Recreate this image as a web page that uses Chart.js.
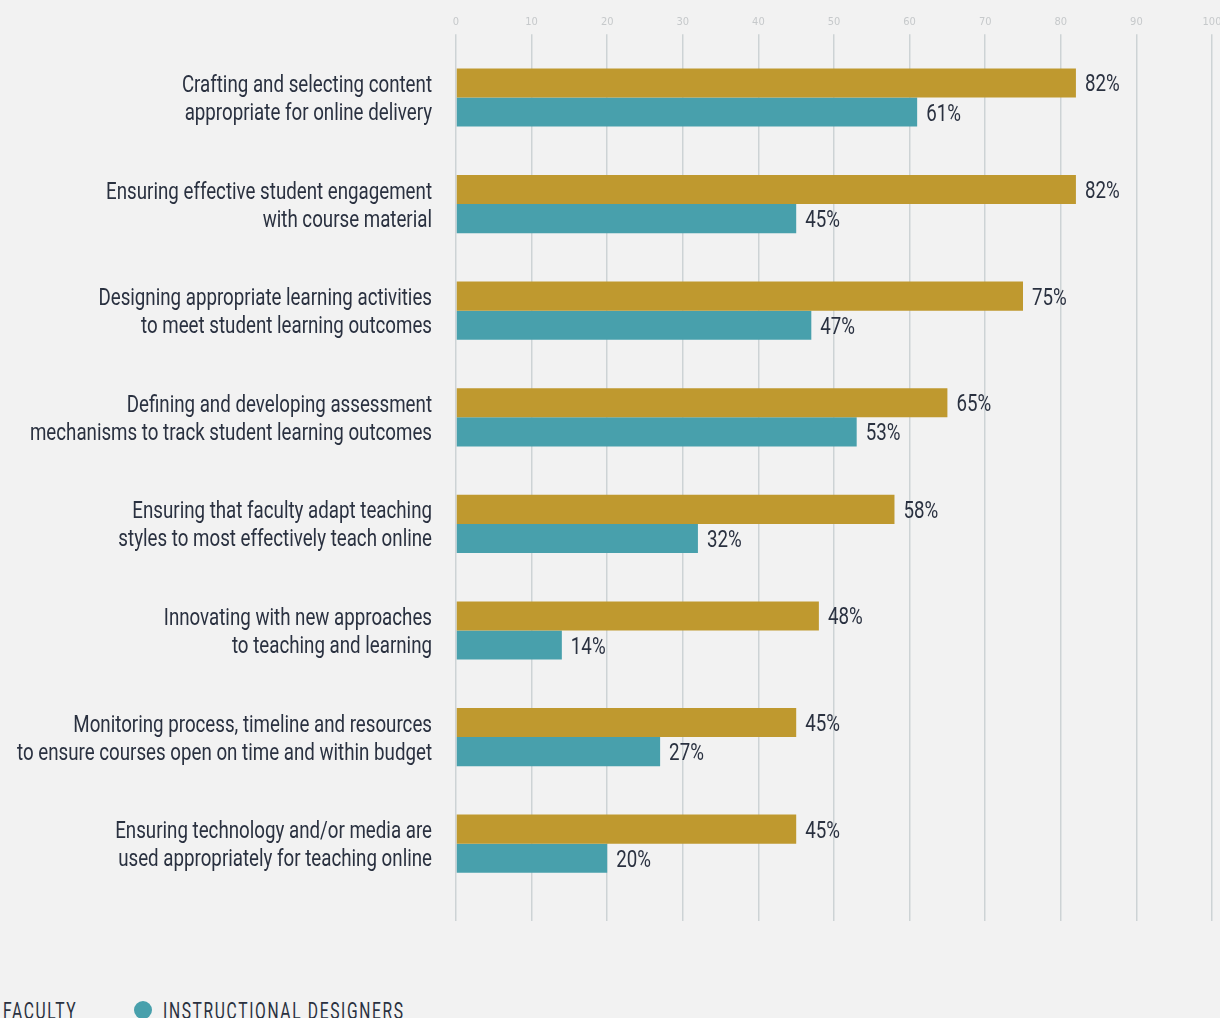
<!DOCTYPE html>
<html>
<head>
<meta charset="utf-8">
<script src="https://cdn.jsdelivr.net/npm/chart.js@4.4.1/dist/chart.umd.min.js"></script>
<style>
  html, body { margin: 0; padding: 0; background: #f2f2f2; }
  body { width: 1220px; height: 1018px; overflow: hidden; position: relative; }
  #wrap { position: absolute; left: 0; top: 0; width: 1220px; height: 921px; }
  .legend-item { position: absolute; top: 998px; height: 24px; white-space: nowrap; }
  .legend-item .dot { position: absolute; left: 0; top: 3px; width: 18px; height: 18px; border-radius: 50%; }
  .legend-item .txt {
    position: absolute; left: 29px; top: 2px; display: inline-block;
    font-family: Roboto, sans-serif; font-size: 23px; line-height: 24px;
    letter-spacing: 2.4px; color: #2a3140;
    transform: scaleX(0.68); transform-origin: 0 0;
  }
</style>
</head>
<body>
<div id="wrap"><canvas id="skillsChart"></canvas></div>
<script>
const categories = [
    ['Crafting and selecting content', 'appropriate for online delivery'],
    ['Ensuring effective student engagement', 'with course material'],
    ['Designing appropriate learning activities', 'to meet student learning outcomes'],
    ['Defining and developing assessment', 'mechanisms to track student learning outcomes'],
    ['Ensuring that faculty adapt teaching', 'styles to most effectively teach online'],
    ['Innovating with new approaches', 'to teaching and learning'],
    ['Monitoring process, timeline and resources', 'to ensure courses open on time and within budget'],
    ['Ensuring technology and/or media are', 'used appropriately for teaching online']
];
const facultyValues = [82, 82, 75, 65, 58, 48, 45, 45];
const designerValues = [61, 45, 47, 53, 32, 14, 27, 20];
const tickValues = [0, 10, 20, 30, 40, 50, 60, 70, 80, 90, 100];

const GOLD = '#bf992f';
const TEAL = '#48a0ac';
const INK = '#2a3140';
const GRID = '#cdd3d5';
const NARROW = 0.78;   // horizontal squeeze to get a condensed look out of Roboto

function narrowText(ctx, text, x, y, align) {
    ctx.save();
    ctx.translate(x, y);
    ctx.scale(NARROW, 1);
    ctx.textAlign = align;
    ctx.fillText(text, 0, 0);
    ctx.restore();
}

// category names (two lines, right aligned) and percentage labels
const textLayer = {
    id: 'textLayer',
    afterDatasetsDraw(chart) {
        const ctx = chart.ctx;
        const yScale = chart.scales.y;
        ctx.save();
        ctx.fillStyle = INK;
        ctx.textBaseline = 'alphabetic';
        ctx.font = '24px Roboto, sans-serif';
        const right = chart.chartArea.left - 24;
        chart.data.labels.forEach((lines, i) => {
            const y = yScale.getPixelForValue(i);
            narrowText(ctx, lines[0], right, y - 5.5, 'right');
            narrowText(ctx, lines[1], right, y + 22.5, 'right');
        });
        chart.data.datasets.forEach((ds, di) => {
            chart.getDatasetMeta(di).data.forEach((bar, i) => {
                narrowText(ctx, ds.data[i] + '%', bar.x + 9, bar.y + 8.5, 'left');
            });
        });
        ctx.restore();
    }
};

const ctxSkills = document.getElementById('skillsChart').getContext('2d');
const skillsChart = new Chart(ctxSkills, {
    type: 'bar',
    data: {
        labels: categories,
        datasets: [{
            label: 'Faculty',
            data: facultyValues,
            backgroundColor: GOLD,
            categoryPercentage: 0.546,
            barPercentage: 1.0
        }, {
            label: 'Instructional Designers',
            data: designerValues,
            backgroundColor: TEAL,
            categoryPercentage: 0.546,
            barPercentage: 1.0
        }]
    },
    options: {
        indexAxis: 'y',
        responsive: true,
        maintainAspectRatio: false,
        animation: false,
        layout: { padding: { top: 11, right: 8, left: 0, bottom: 0 } },
        plugins: {
            legend: { display: false },
            tooltip: { enabled: false }
        },
        scales: {
            x: {
                position: 'top',
                min: 0,
                max: 100,
                afterBuildTicks: (scale) => { scale.ticks = tickValues.map(v => ({ value: v })); },
                afterFit: (scale) => { scale.paddingLeft = 0; scale.paddingRight = 0; },
                grid: { color: GRID, lineWidth: 1.5, tickLength: 10 },
                border: { display: false },
                ticks: {
                    color: '#c6c9cb',
                    font: { family: '"DejaVu Sans Condensed", sans-serif', size: 11 },
                    padding: 5,
                    maxRotation: 0
                }
            },
            // lower axis only carries the gridlines a little below the last bar
            x2: {
                axis: 'x',
                position: 'bottom',
                min: 0,
                max: 100,
                afterBuildTicks: (scale) => { scale.ticks = tickValues.map(v => ({ value: v })); },
                afterFit: (scale) => { scale.paddingLeft = 0; scale.paddingRight = 0; },
                grid: { color: GRID, lineWidth: 1.5, tickLength: 24, drawOnChartArea: false },
                border: { display: false },
                ticks: { display: false }
            },
            y: {
                afterFit: (scale) => { scale.width = 456; },
                grid: { display: false },
                border: { display: false },
                ticks: { display: false }
            }
        }
    },
    plugins: [textLayer]
});

// legend under the chart; the first marker sits just off the left edge
const legendLeft = [-26, 134];
skillsChart.data.datasets.forEach((ds, i) => {
    const item = document.createElement('div');
    item.className = 'legend-item';
    item.style.left = legendLeft[i] + 'px';
    const dot = document.createElement('span');
    dot.className = 'dot';
    dot.style.background = ds.backgroundColor;
    const txt = document.createElement('span');
    txt.className = 'txt';
    txt.textContent = ds.label.toUpperCase();
    item.appendChild(dot);
    item.appendChild(txt);
    document.body.appendChild(item);
});
</script>
</body>
</html>
